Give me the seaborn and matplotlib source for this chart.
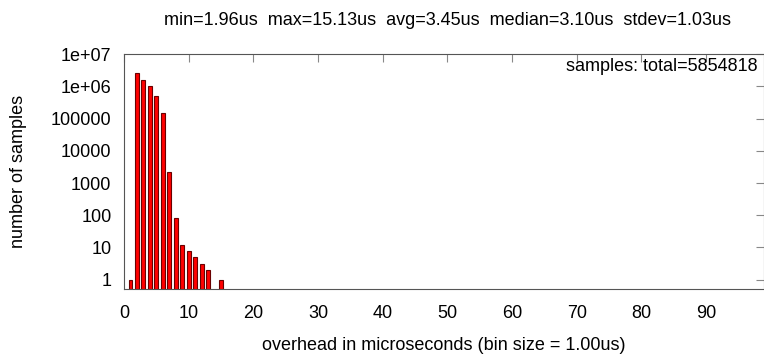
import matplotlib
matplotlib.use("Agg")
import matplotlib.pyplot as plt
import seaborn as sns
from matplotlib.ticker import LogLocator, FixedLocator

# histogram bins (us) and sample counts
bins = [1, 2, 3, 4, 5, 6, 7, 8, 9, 10, 11, 12, 13, 15]
counts = [1, 2590000, 1580000, 1030000, 500000, 152000, 2240, 84, 12, 8, 5, 3, 2, 1]

stats_text = "min=1.96us  max=15.13us  avg=3.45us  median=3.10us  stdev=1.03us"
total_text = "samples: total=5854818"
xticks = [0, 10, 20, 30, 40, 50, 60, 70, 80, 90]
yticks = [1, 10, 100, 1000, 10000, 100000, 1e6, 1e7]
ytick_labels = ["1", "10", "100", "1000", "10000", "100000", "1e+06", "1e+07"]

sns.set_style("white")
plt.rcParams["font.family"] = ["Liberation Sans", "DejaVu Sans"]
plt.rcParams["text.color"] = "black"
plt.rcParams["axes.labelcolor"] = "black"
plt.rcParams["xtick.labelcolor"] = "black"
plt.rcParams["ytick.labelcolor"] = "black"

fig = plt.figure(figsize=(7.64, 3.61), dpi=100)
ax = fig.add_axes([0.1623, 0.1986, 0.838, 0.651])

sns.barplot(x=bins, y=counts, native_scale=True, width=0.6, color="#ff0000",
            saturation=1, edgecolor="#6a0000", linewidth=0.8, ax=ax)

ax.set_yscale("log")
ax.set_ylim(0.5, 1e7)
ax.set_xlim(0, 99)

ax.xaxis.set_major_locator(FixedLocator(xticks))
ax.set_xticklabels([str(t) for t in xticks])
ax.yaxis.set_major_locator(FixedLocator(yticks))
ax.set_yticklabels(ytick_labels)
ax.yaxis.set_minor_locator(LogLocator(base=10, subs=range(2, 10)))
ax.yaxis.set_minor_formatter(plt.NullFormatter())

ax.tick_params(axis="both", which="major", direction="in", length=6, width=0.8,
               color="#888888", labelsize=13, pad=9, top=True, right=True)
ax.tick_params(axis="y", which="minor", direction="in", length=3, width=0.6,
               color="#999999", right=True)
ax.tick_params(axis="x", which="major", pad=11)

for sp in ax.spines.values():
    sp.set_color("#555555")
    sp.set_linewidth(0.8)

ax.set_xlabel("overhead in microseconds (bin size = 1.00us)", fontsize=13)
ax.set_ylabel("number of samples", fontsize=13)
ax.xaxis.set_label_coords(0.5, -0.205)
ax.yaxis.set_label_coords(-0.152, 0.5)

fig.text(0.586, 0.942, stats_text, ha="center", va="center", fontsize=13)
ax.text(0.989, 0.95, total_text, transform=ax.transAxes, ha="right", va="center",
        fontsize=13)

fig.savefig("out.png", dpi=100)
